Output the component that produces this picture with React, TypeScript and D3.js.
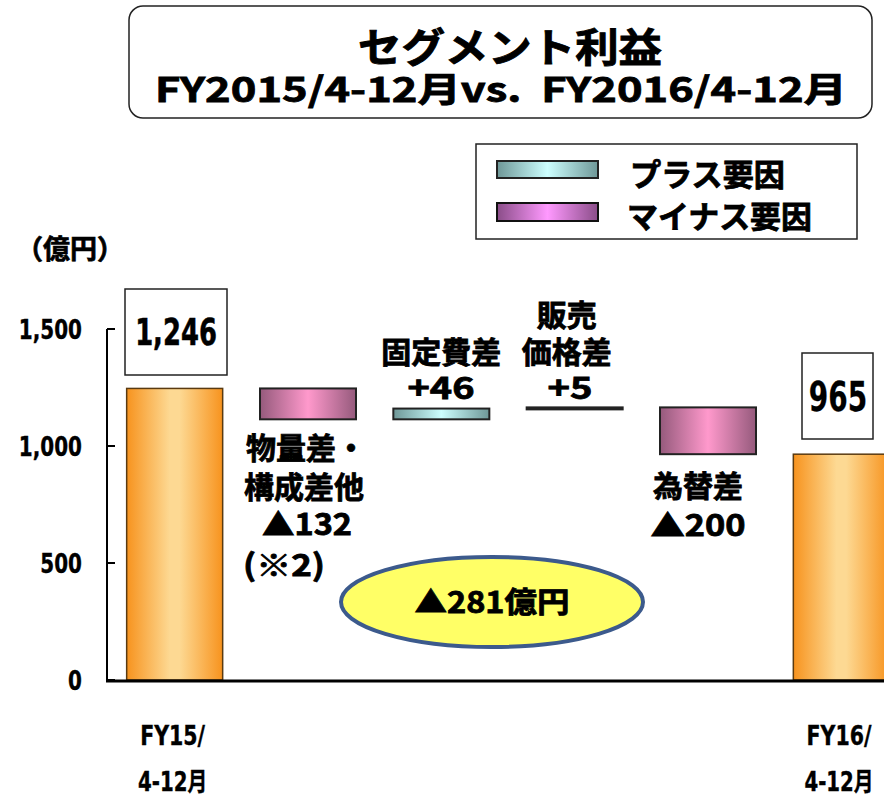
import React from "react";
import * as d3 from "d3";

const categories = ["FY15", "物量差", "固定費差", "販売価格差", "為替差", "FY16"];
const startValue = 1246;
const deltas = [0, -132, 46, 5, -200, 0];
const endValue = 965;
const yTicks = [0, 500, 1000, 1500];
const tickLabels = ["0", "500", "1,000", "1,500"];

const W = 884;
const H = 797;
const JP = "'Noto Sans CJK JP', 'DejaVu Sans', sans-serif";
const NUM = "'DejaVu Sans', 'Noto Sans CJK JP', sans-serif";

type NTProps = {
  x: number;
  y: number;
  sx?: number;
  size: number;
  anchor?: string;
  family?: string;
  sw?: number;
  children: React.ReactNode;
};
function NT({ x, y, sx = 0.74, size, anchor = "middle", family = NUM, sw = 0.4, children }: NTProps) {
  return (
    <text
      transform={`translate(${x},${y}) scale(${sx},1)`}
      textAnchor={anchor}
      fontFamily={family}
      fontWeight={700}
      fontSize={size}
      fill="#000"
      stroke="#000"
      strokeWidth={sw}
    >
      {children}
    </text>
  );
}

export default function App() {
  const y = d3.scaleLinear().domain([0, 1500]).range([680, 329]);
  const x = d3
    .scaleBand<string>()
    .domain(categories)
    .range([108, 908])
    .paddingInner(0.28)
    .paddingOuter(0.14);
  const bw = x.bandwidth();

  let run = startValue;
  const segs: { cat: string; from: number; to: number; kind: string }[] = [];
  categories.forEach((c, i) => {
    if (i === 0) segs.push({ cat: c, from: 0, to: startValue, kind: "total" });
    else if (i === categories.length - 1) segs.push({ cat: c, from: 0, to: endValue, kind: "total" });
    else {
      const nxt = run + deltas[i];
      segs.push({ cat: c, from: run, to: nxt, kind: deltas[i] >= 0 ? "plus" : "minus" });
      run = nxt;
    }
  });

  const fillFor = (k: string) => (k === "total" ? "url(#gOrange)" : k === "plus" ? "url(#gCyan)" : "url(#gPink)");
  const cx = (c: string) => (x(c) as number) + bw / 2;

  return (
    <svg
      width={W}
      height={H}
      viewBox={`0 0 ${W} ${H}`}
      style={{ position: "absolute", left: 0, top: 0, background: "#fff" }}
    >
      <defs>
        <linearGradient id="gOrange" x1="0" x2="1" y1="0" y2="0">
          <stop offset="0" stopColor="#F7931E" />
          <stop offset="0.45" stopColor="#FDD993" />
          <stop offset="0.55" stopColor="#FDD993" />
          <stop offset="1" stopColor="#F7931E" />
        </linearGradient>
        <linearGradient id="gPink" x1="0" x2="1" y1="0" y2="0">
          <stop offset="0" stopColor="#955A7C" />
          <stop offset="0.5" stopColor="#FF99CC" />
          <stop offset="1" stopColor="#955A7C" />
        </linearGradient>
        <linearGradient id="gCyan" x1="0" x2="1" y1="0" y2="0">
          <stop offset="0" stopColor="#6E9797" />
          <stop offset="0.5" stopColor="#CCFFFF" />
          <stop offset="1" stopColor="#6E9797" />
        </linearGradient>
        <linearGradient id="gPinkL" x1="0" x2="1" y1="0" y2="0">
          <stop offset="0" stopColor="#8A4D88" />
          <stop offset="0.5" stopColor="#FF99FF" />
          <stop offset="1" stopColor="#8A4D88" />
        </linearGradient>
      </defs>

      {/* Title box */}
      <rect x={129} y={6} width={743} height={112} rx={14} fill="#fff" stroke="#222" strokeWidth={1.5} />
      <text
        x={510}
        y={62}
        textAnchor="middle"
        fontFamily={JP}
        fontWeight={700}
        fontSize={40}
        fill="#000"
        stroke="#000"
        strokeWidth={0.9}
        textLength={304}
        lengthAdjust="spacingAndGlyphs"
      >
        セグメント利益
      </text>
      <text
        x={501}
        y={102}
        textAnchor="middle"
        fontFamily={JP}
        fontWeight={700}
        fontSize={34}
        fill="#000"
        stroke="#000"
        strokeWidth={0.8}
        textLength={692}
        lengthAdjust="spacingAndGlyphs"
      >
        {"FY2015/4-12月vs.\u00A0\u00A0FY2016/4-12月"}
      </text>

      {/* Legend */}
      <rect x={476} y={144} width={381} height={95} fill="#fff" stroke="#222" strokeWidth={1.5} />
      <rect x={497} y={161} width={101} height={17} fill="url(#gCyan)" stroke="#222" strokeWidth={2} />
      <g fontFamily={JP} fontWeight={700} fontSize={31} fill="#000" stroke="#000" strokeWidth={0.8}>
        <text x={630} y={186} textLength={155} lengthAdjust="spacingAndGlyphs">
          プラス要因
        </text>
        <text x={627} y={228} textLength={185} lengthAdjust="spacingAndGlyphs">
          マイナス要因
        </text>
      </g>
      <rect x={497} y={203} width={101} height={18} fill="url(#gPinkL)" stroke="#111" strokeWidth={2} />

      {/* Unit */}
      <text x={16} y={259} fontFamily={JP} fontWeight={700} fontSize={27} fill="#000" stroke="#000" strokeWidth={0.7}>
        （億円）
      </text>

      {/* Axis */}
      <line x1={107} x2={107} y1={y(1500)} y2={y(0)} stroke="#000" strokeWidth={2} />
      {yTicks.map((t, i) => (
        <g key={t}>
          <line x1={107} x2={115} y1={y(t)} y2={y(t)} stroke="#000" strokeWidth={2} />
          <NT x={82} y={y(t) + 10} size={27} sx={0.74} anchor="end">
            {tickLabels[i]}
          </NT>
        </g>
      ))}

      {/* Bars */}
      {segs.map((s) => {
        const top = Math.min(y(s.from), y(s.to));
        const h = Math.max(Math.abs(y(s.from) - y(s.to)), 2);
        return (
          <rect
            key={s.cat}
            x={x(s.cat)}
            y={top}
            width={bw}
            height={h}
            fill={fillFor(s.kind)}
            stroke={s.kind === "total" ? "#5a3a10" : "#222"}
            strokeWidth={s.kind === "total" ? 1.5 : 2}
          />
        );
      })}

      <line x1={106} x2={W} y1={y(0) + 1} y2={y(0) + 1} stroke="#000" strokeWidth={3} />

      {/* Value boxes */}
      <rect x={125} y={289} width={102} height={86} fill="#fff" stroke="#222" strokeWidth={1.5} />
      <NT x={176} y={345} size={38} sx={0.68} sw={0.6}>
        1,246
      </NT>
      <rect x={802} y={353} width={71} height={86} fill="#fff" stroke="#222" strokeWidth={1.5} />
      <NT x={838} y={411} size={40} sx={0.7} sw={0.3}>
        965
      </NT>

      {/* Labels */}
      <g fontFamily={JP} fontWeight={700} fontSize={30} fill="#000" textAnchor="middle" stroke="#000" strokeWidth={0.8}>
        <text x={cx("物量差") - 2} y={459}>物量差・</text>
        <text x={cx("物量差") - 4} y={498}>構成差他</text>
        <text x={307} y={535} textLength={90} lengthAdjust="spacingAndGlyphs">▲132</text>
        <text x={243} y={576} textAnchor="start" textLength={82} lengthAdjust="spacingAndGlyphs">(※2)</text>

        <text x={cx("固定費差")} y={363}>固定費差</text>
        <text x={441} y={399} textLength={67} lengthAdjust="spacingAndGlyphs">+46</text>

        <text x={cx("販売価格差") - 8} y={326}>販売</text>
        <text x={cx("販売価格差") - 8} y={363}>価格差</text>
        <text x={570} y={399} textLength={45} lengthAdjust="spacingAndGlyphs">+5</text>

        <text x={698} y={497}>為替差</text>
        <text x={698} y={536} textLength={95} lengthAdjust="spacingAndGlyphs">▲200</text>
      </g>

      {/* Ellipse */}
      <ellipse cx={492} cy={602} rx={151} ry={45} fill="#FFFF66" stroke="#3C5A8C" strokeWidth={4} />
      <text
        x={492}
        y={613}
        textAnchor="middle"
        fontFamily={JP}
        fontWeight={700}
        fontSize={29}
        fill="#000"
        stroke="#000"
        strokeWidth={0.8}
        textLength={155}
        lengthAdjust="spacingAndGlyphs"
      >
        ▲281億円
      </text>

      {/* Category labels */}
      <NT x={cx("FY15") - 2} y={745} size={27} sx={0.76}>FY15/</NT>
      <NT x={cx("FY15") - 2} y={791} size={26} sx={0.76}>4-12月</NT>
      <NT x={839} y={745} size={27} sx={0.76}>FY16/</NT>
      <NT x={839} y={791} size={26} sx={0.76}>4-12月</NT>
    </svg>
  );
}
